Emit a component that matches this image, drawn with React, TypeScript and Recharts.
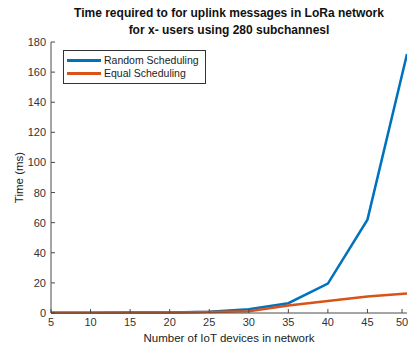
import { LineChart, Line, XAxis, YAxis } from 'recharts';

const devices = [5, 10, 15, 20, 25, 30, 35, 40, 45, 50];
const randomScheduling = [0.1, 0.15, 0.25, 0.4, 0.9, 2.5, 6.5, 19.5, 62, 172];
const equalScheduling = [0.1, 0.15, 0.25, 0.4, 0.7, 1.2, 5, 8, 11, 13];
const xTicks = [5, 10, 15, 20, 25, 30, 35, 40, 45, 50];
const yTicks = [0, 20, 40, 60, 80, 100, 120, 140, 160, 180];

const BLUE = '#0072BD';
const ORANGE = '#D95319';
const AXIS = '#4a4a4a';
const FONT = '"Liberation Sans", Arial, sans-serif';

const data = devices.map((d, i) => ({
  devices: d,
  random: randomScheduling[i],
  equal: equalScheduling[i],
}));

// MATLAB style: tick marks point inward, labels outside
const BottomTick = ({ x, y, payload }: any) => (
  <g>
    <line x1={x} y1={y} x2={x} y2={y - 4} stroke={AXIS} />
    <text x={x} y={y + 13} textAnchor="middle" fontSize={11} fill="#333" fontFamily={FONT}>
      {payload.value}
    </text>
  </g>
);

const TopTick = ({ x, y }: any) => <line x1={x} y1={y} x2={x} y2={y + 4} stroke={AXIS} />;

const LeftTick = ({ x, y, payload }: any) => (
  <g>
    <line x1={x} y1={y} x2={x + 4} y2={y} stroke={AXIS} />
    <text x={x - 5} y={y + 4} textAnchor="end" fontSize={11} fill="#333" fontFamily={FONT}>
      {payload.value}
    </text>
  </g>
);

const RightTick = ({ x, y }: any) => <line x1={x} y1={y} x2={x - 4} y2={y} stroke={AXIS} />;

const series = [
  { name: 'Random Scheduling', color: BLUE },
  { name: 'Equal Scheduling', color: ORANGE },
];

export default function App() {
  return (
    <div style={{ position: 'absolute', left: 0, top: 0, width: 410, height: 345, background: '#fff', overflow: 'hidden' }}>
      <div
        style={{
          position: 'absolute',
          left: 51,
          width: 356,
          top: 5,
          textAlign: 'center',
          fontFamily: FONT,
          fontWeight: 'bold',
          fontSize: 12,
          lineHeight: '17px',
          color: '#111',
        }}
      >
        Time required to for uplink messages in LoRa network
        <br />
        for x- users using 280 subchannesl
      </div>
      <LineChart width={410} height={345} data={data} margin={{ top: 42, right: 3, left: 0, bottom: 0 }}>
        <XAxis
          dataKey="devices"
          type="number"
          domain={[5, 50]}
          ticks={xTicks}
          height={32}
          tickSize={0}
          tickMargin={0}
          tick={<BottomTick />}
          stroke={AXIS}
          allowDataOverflow
          label={{
            value: 'Number of IoT devices in network',
            position: 'insideBottom',
            offset: 3,
            fontSize: 11.5,
            fill: '#222',
            fontFamily: FONT,
          }}
        />
        <XAxis
          xAxisId="top"
          orientation="top"
          dataKey="devices"
          type="number"
          domain={[5, 50]}
          ticks={xTicks}
          height={0}
          tickSize={0}
          tickMargin={0}
          tick={<TopTick />}
          stroke={AXIS}
        />
        <YAxis
          type="number"
          domain={[0, 180]}
          ticks={yTicks}
          width={51}
          tickSize={0}
          tickMargin={0}
          tick={<LeftTick />}
          stroke={AXIS}
          label={{
            value: 'Time (ms)',
            angle: -90,
            position: 'insideLeft',
            offset: 19,
            fontSize: 11.5,
            fill: '#222',
            fontFamily: FONT,
            style: { textAnchor: 'middle' },
          }}
        />
        <YAxis
          yAxisId="right"
          orientation="right"
          type="number"
          domain={[0, 180]}
          ticks={yTicks}
          width={0}
          tickSize={0}
          tickMargin={0}
          tick={<RightTick />}
          stroke={AXIS}
        />
        <Line dataKey="random" stroke={BLUE} strokeWidth={2.5} dot={false} isAnimationActive={false} />
        <Line dataKey="equal" stroke={ORANGE} strokeWidth={2.5} dot={false} isAnimationActive={false} />
      </LineChart>
      <div
        style={{
          position: 'absolute',
          left: 63,
          top: 50,
          border: '1px solid #333',
          background: '#fff',
          padding: '3px 6px 3px 3px',
          fontFamily: FONT,
          fontSize: 10.5,
          color: '#222',
          lineHeight: '13px',
        }}
      >
        {series.map((item) => (
          <div key={item.name} style={{ display: 'flex', alignItems: 'center' }}>
            <span style={{ display: 'inline-block', width: 34, height: 2.5, background: item.color, marginRight: 3 }} />
            {item.name}
          </div>
        ))}
      </div>
    </div>
  );
}
